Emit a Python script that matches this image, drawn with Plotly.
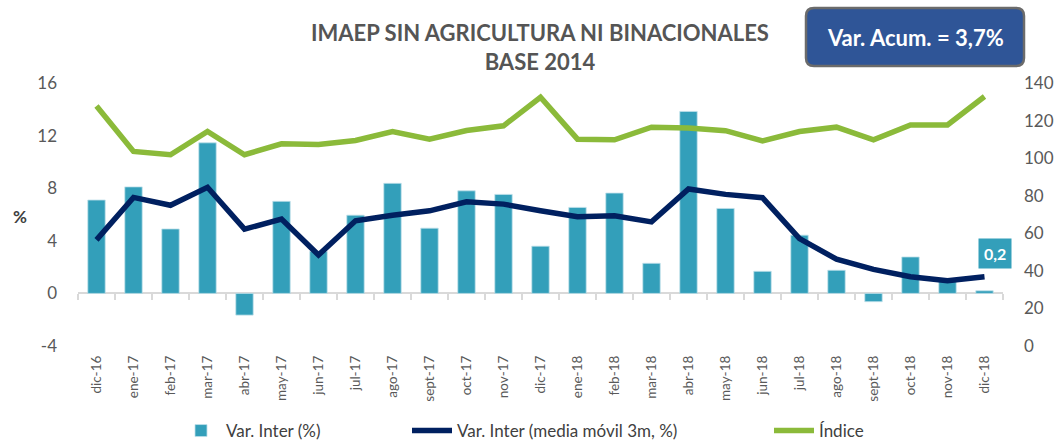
import plotly.graph_objects as go

categories = ["dic-16", "ene-17", "feb-17", "mar-17", "abr-17", "may-17", "jun-17", "jul-17",
              "ago-17", "sept-17", "oct-17", "nov-17", "dic-17", "ene-18", "feb-18", "mar-18",
              "abr-18", "may-18", "jun-18", "jul-18", "ago-18", "sept-18", "oct-18", "nov-18", "dic-18"]

var_inter = [7.1, 8.1, 4.9, 11.45, -1.65, 7.0, 3.2, 5.95,
             8.37, 4.96, 7.8, 7.53, 3.59, 6.54, 7.63, 2.29,
             13.84, 6.46, 1.68, 4.43, 1.76, -0.63, 2.77, 1.0, 0.2]

media_movil = [4.07, 7.3, 6.7, 8.07, 4.89, 5.65, 2.92, 5.52,
               5.95, 6.28, 6.97, 6.79, 6.28, 5.83, 5.9, 5.44,
               7.94, 7.53, 7.28, 4.17, 2.6, 1.83, 1.27, 0.97, 1.27]

indice = [127.8, 103.6, 101.8, 114.2, 101.8, 107.6, 107.3, 109.4,
          114.2, 110.1, 114.7, 117.2, 132.4, 110.1, 109.8, 116.5,
          116.0, 114.6, 109.2, 114.2, 116.5, 109.8, 117.7, 117.7, 132.8]

left_ticks = [-4, 0, 4, 8, 12, 16]
left_ticktext = ["-4", "0", "4", "8", "12", "16"]
right_ticks = [0, 20, 40, 60, 80, 100, 120, 140]

title_lines = ["IMAEP SIN AGRICULTURA NI BINACIONALES", "BASE 2014"]
acum_text = "Var. Acum. = 3,7%"
last_label = "0,2"

BAR = "#339FBA"
NAVY = "#002060"
GREEN = "#8BBA3A"
TXT = "#595959"
FONT = "Lato, 'Open Sans', sans-serif"

ML, MR, MT, MB = 78, 57, 83, 95
W, H = 1060, 441
PW = W - ML - MR
PH = H - MT - MB


def px(xpix):
    return (xpix - ML) / PW


def py(ypix):
    return (H - MB - ypix) / PH


fig = go.Figure()

fig.add_trace(go.Bar(x=categories, y=var_inter, name="Var. Inter (%)",
                     marker=dict(color=BAR, line=dict(color="#BFE0EA", width=0.8)),
                     width=0.47, yaxis="y", xaxis="x", legendwidth=176))
fig.add_trace(go.Scatter(x=categories, y=media_movil, name="Var. Inter (media móvil 3m, %)",
                         mode="lines", line=dict(color=NAVY, width=5.5), yaxis="y", xaxis="x",
                         legendwidth=307))
fig.add_trace(go.Scatter(x=categories, y=indice, name="Índice",
                         mode="lines", line=dict(color=GREEN, width=5.5), yaxis="y2", xaxis="x",
                         legendwidth=70))
# invisible trace to carry the zero-line category axis
fig.add_trace(go.Scatter(x=categories, y=[None] * len(categories), showlegend=False,
                         hoverinfo="skip", xaxis="x2", yaxis="y"))

ymin, ymax = left_ticks[0], left_ticks[-1]
zero_pos = (0 - ymin) / (ymax - ymin)

fig.update_layout(
    width=W, height=H,
    margin=dict(l=ML, r=MR, t=MT, b=MB, autoexpand=False),
    paper_bgcolor="white", plot_bgcolor="white",
    font=dict(family=FONT, color=TXT, size=14),
    showlegend=True,
    legend=dict(orientation="h", x=px(176), xanchor="left", y=py(431), yanchor="middle",
                font=dict(size=17, color="#404040", family=FONT),
                itemwidth=40, traceorder="normal", bgcolor="rgba(0,0,0,0)"),
    xaxis=dict(type="category", categoryorder="array", categoryarray=categories,
               range=[-0.5, len(categories) - 0.5], automargin=False,
               tickangle=-90, tickfont=dict(size=13.5, color=TXT),
               showline=False, showgrid=False, zeroline=False, ticks="",
               ticklabelstandoff=6),
    xaxis2=dict(type="category", categoryorder="array", categoryarray=categories,
                range=[-0.5, len(categories) - 0.5], overlaying="x", anchor="free",
                position=zero_pos, showline=True, linecolor="#D9D9D9", linewidth=2,
                ticks="outside", ticklen=6, tickwidth=1.5, tickcolor="#D9D9D9",
                tickson="boundaries", showticklabels=False, showgrid=False, zeroline=False,
                layer="below traces", automargin=False),
    yaxis=dict(range=[ymin, ymax], tickvals=left_ticks, ticktext=left_ticktext,
               showgrid=False, zeroline=False, automargin=False,
               showline=False, tickfont=dict(size=17, color=TXT), ticklabelstandoff=20),
    yaxis2=dict(range=[right_ticks[0], right_ticks[-1]], tickvals=right_ticks, overlaying="y",
                side="right", showgrid=False, zeroline=False, showline=False, automargin=False,
                tickfont=dict(size=17, color=TXT), ticklabelstandoff=20),
)

# y-axis title "%"
fig.add_annotation(text="<b>%</b>", xref="paper", yref="paper", x=px(20), y=py(216),
                   xanchor="center", yanchor="middle", showarrow=False,
                   font=dict(size=17, color="#404040", family=FONT))

# title
fig.add_annotation(text="<b>" + "<br>".join(title_lines) + "</b>", xref="paper", yref="paper",
                   x=px(540), y=py(47), xanchor="center", yanchor="middle",
                   showarrow=False, align="center",
                   font=dict(size=22, color="#555555", family=FONT))

# rounded box with accumulated variation
x0p, x1p = px(806), px(1024)
y0p, y1p = py(66), py(8)
rx = 8 / PW
ry = 8 / PH
path = (f"M {x0p + rx} {y0p} L {x1p - rx} {y0p} Q {x1p} {y0p} {x1p} {y0p + ry} "
        f"L {x1p} {y1p - ry} Q {x1p} {y1p} {x1p - rx} {y1p} "
        f"L {x0p + rx} {y1p} Q {x0p} {y1p} {x0p} {y1p - ry} "
        f"L {x0p} {y0p + ry} Q {x0p} {y0p} {x0p + rx} {y0p} Z")
fig.add_shape(type="path", path=path, xref="paper", yref="paper",
              fillcolor="#2F5597", line=dict(color="#6B6B6B", width=2.5), layer="above")
fig.add_annotation(text=f"<b>{acum_text}</b>", xref="paper", yref="paper",
                   x=(x0p + x1p) / 2, y=(y0p + y1p) / 2, xanchor="center", yanchor="middle",
                   showarrow=False, font=dict(size=22, color="white", family=FONT))

# data label for last bar
fig.add_annotation(text=f"<b>{last_label}</b>", x=categories[-1], y=var_inter[-1],
                   xref="x", yref="y", xanchor="center", yanchor="bottom",
                   xshift=10, yshift=22, showarrow=False, bgcolor=BAR, borderpad=5,
                   font=dict(size=16, color="white", family=FONT))

fig.write_html("out.html", config={"displayModeBar": False},
               post_script="document.body.style.margin='0';document.body.style.padding='0';")
